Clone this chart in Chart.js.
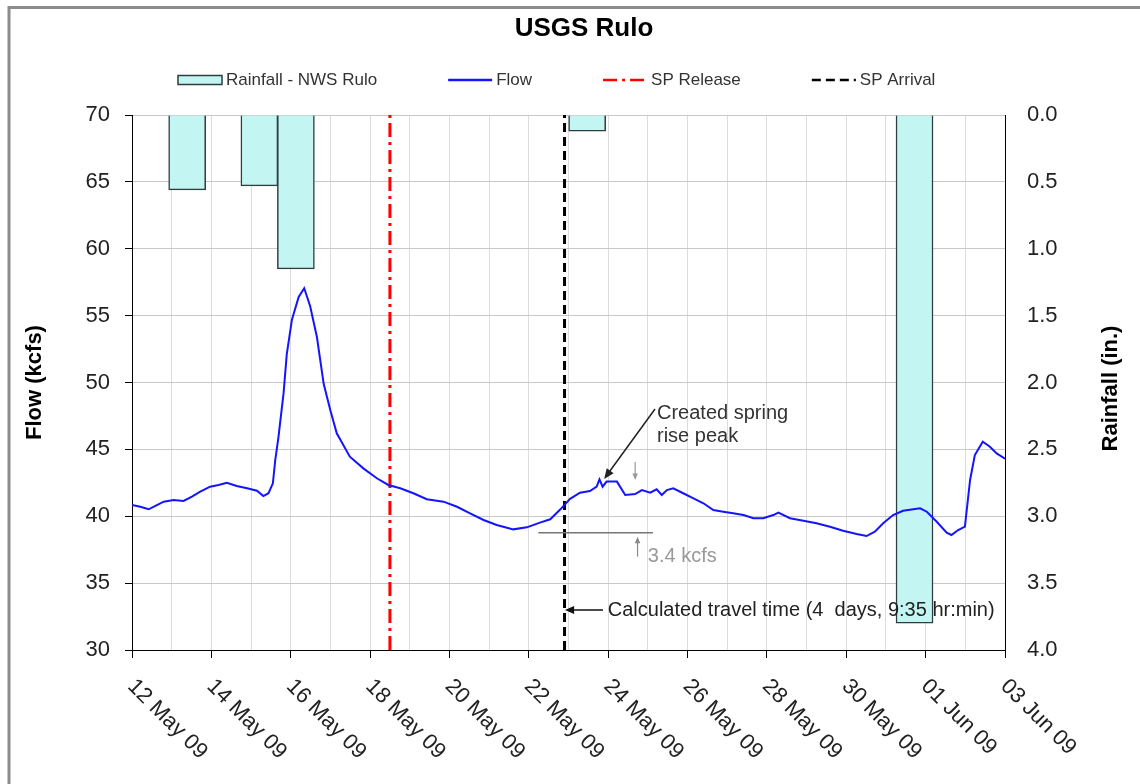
<!DOCTYPE html>
<html>
<head>
<meta charset="utf-8">
<title>USGS Rulo</title>
<script src="https://cdn.jsdelivr.net/npm/chart.js@4.4.1/dist/chart.umd.min.js"></script>
<style>
  body { margin: 0; background: #fff; }
  canvas { display: block; }
</style>
</head>
<body>
<canvas id="chart" width="1140" height="784"></canvas>
<script>
const FONT = '"Liberation Sans", Arial, sans-serif'

// x values are days since 12 May 2009 00:00
const tickLabels = ['12 May 09', '14 May 09', '16 May 09', '18 May 09', '20 May 09', '22 May 09',
  '24 May 09', '26 May 09', '28 May 09', '30 May 09', '01 Jun 09', '03 Jun 09']

// Flow at USGS Rulo (kcfs)
const flowDays = [0.00, 0.21, 0.42, 0.59, 0.80, 1.05, 1.30, 1.51, 1.72, 1.97, 2.18, 2.39, 2.64, 2.90,
  3.15, 3.31, 3.44, 3.55, 3.61, 3.69, 3.82, 3.90, 4.03, 4.20, 4.34, 4.49, 4.66, 4.83, 5.00, 5.16,
  5.49, 5.83, 6.17, 6.46, 6.76, 7.09, 7.43, 7.85, 8.19, 8.52, 8.86, 9.19, 9.61, 9.95, 10.28, 10.54,
  10.79, 11.04, 11.29, 11.54, 11.71, 11.78, 11.86, 11.96, 12.22, 12.43, 12.68, 12.85, 13.06, 13.22,
  13.35, 13.48, 13.64, 13.89, 14.15, 14.40, 14.65, 14.90, 15.15, 15.41, 15.66, 15.91, 16.16, 16.29,
  16.58, 16.92, 17.25, 17.59, 17.92, 18.26, 18.51, 18.72, 18.93, 19.18, 19.43, 19.69, 19.86, 20.03,
  20.28, 20.53, 20.65, 20.82, 20.99, 21.12, 21.24, 21.44, 21.62, 21.79, 22.00]
const flowValues = [40.84, 40.71, 40.52, 40.77, 41.09, 41.22, 41.14, 41.47, 41.84, 42.21, 42.34, 42.51, 42.26, 42.09,
  41.91, 41.51, 41.72, 42.46, 44.2, 45.9, 49.2, 52.1, 54.7, 56.4, 57.05, 55.7, 53.4, 49.9, 47.9, 46.2,
  44.45, 43.58, 42.84, 42.34, 42.09, 41.72, 41.27, 41.09, 40.71, 40.22, 39.72, 39.35, 39.02, 39.17, 39.52, 39.77,
  40.5, 41.3, 41.76, 41.89, 42.21, 42.76, 42.21, 42.59, 42.59, 41.59, 41.66, 41.96, 41.76, 42.01,
  41.59, 41.96, 42.09, 41.72, 41.34, 40.97, 40.47, 40.34, 40.22, 40.09, 39.85, 39.85, 40.09, 40.27,
  39.85, 39.67, 39.47, 39.22, 38.92, 38.67, 38.52, 38.85, 39.47, 40.09, 40.41, 40.52, 40.59, 40.34,
  39.59, 38.77, 38.6, 38.97, 39.22, 42.71, 44.58, 45.57, 45.2, 44.7, 44.3]

// Rainfall - NWS Rulo (in.)
const rainDays = [1.39, 3.21, 4.13, 11.47, 19.72]
const rainValues = [0.56, 0.53, 1.15, 0.12, 3.80]

// SP release and arrival (release + 4 days 9:35)
const releaseDay = 6.50
const arrivalDay = 10.90

// annotation anchors, in data units (day, kcfs)
const notes = {
  peakText: [13.23, 47.72],
  peakArrow: [[13.18, 48.02], [11.90, 42.79]],
  dropArrow: [[12.68, 44.06], [12.68, 42.71]],
  baseLine: [[10.24, 38.77], [13.13, 38.77]],
  riseArrow: [[12.74, 36.98], [12.74, 38.47]],
  riseText: [13.0, 36.98],
  travelText: [11.99, 32.99],
  travelArrow: [[11.87, 32.99], [10.91, 32.99]],
}

const toPoints = (xs, ys) => xs.map((x, i) => ({ x: x, y: ys[i] }))

const drawArrow = (ctx, x1, y1, x2, y2, color, width, head) => {
  const a = Math.atan2(y2 - y1, x2 - x1)
  ctx.save()
  ctx.strokeStyle = color
  ctx.fillStyle = color
  ctx.lineWidth = width
  ctx.beginPath()
  ctx.moveTo(x1, y1)
  ctx.lineTo(x2 - Math.cos(a) * head * 0.8, y2 - Math.sin(a) * head * 0.8)
  ctx.stroke()
  ctx.beginPath()
  ctx.moveTo(x2, y2)
  ctx.lineTo(x2 - head * Math.cos(a - 0.4), y2 - head * Math.sin(a - 0.4))
  ctx.lineTo(x2 - head * Math.cos(a + 0.4), y2 - head * Math.sin(a + 0.4))
  ctx.closePath()
  ctx.fill()
  ctx.restore()
}

// Everything Chart.js does not draw the way the figure does
const decorPlugin = {
  id: 'decor',
  beforeDraw(chart) {
    const ctx = chart.ctx
    ctx.save()
    ctx.fillStyle = '#fff'
    ctx.fillRect(0, 0, chart.width, chart.height)
    ctx.strokeStyle = '#8c8c8c'
    ctx.lineWidth = 3
    ctx.beginPath()
    ctx.moveTo(9, chart.height)
    ctx.lineTo(9, 7.5)
    ctx.lineTo(chart.width, 7.5)
    ctx.stroke()
    ctx.restore()
  },
  afterDraw(chart) {
    const ctx = chart.ctx
    const x = chart.scales.x
    const y = chart.scales.y
    const area = chart.chartArea
    const px = (p) => [x.getPixelForValue(p[0]), y.getPixelForValue(p[1])]

    ctx.save()
    // title
    ctx.fillStyle = '#000'
    ctx.font = 'bold 26px ' + FONT
    ctx.textAlign = 'center'
    ctx.textBaseline = 'middle'
    ctx.fillText('USGS Rulo', 584, 29)

    // legend
    ctx.font = '17px ' + FONT
    ctx.textAlign = 'left'
    let lx = 178
    const ly = 80
    chart.data.datasets.forEach((ds) => {
      ctx.save()
      if (ds.type === 'bar') {
        ctx.fillStyle = ds.backgroundColor
        ctx.strokeStyle = ds.borderColor
        ctx.lineWidth = 1.5
        ctx.fillRect(lx, ly - 4.5, 44, 9)
        ctx.strokeRect(lx, ly - 4.5, 44, 9)
      } else {
        ctx.strokeStyle = ds.borderColor
        ctx.lineWidth = 2.5
        ctx.setLineDash(ds.borderDash || [])
        ctx.beginPath()
        ctx.moveTo(lx, ly)
        ctx.lineTo(lx + 44, ly)
        ctx.stroke()
      }
      ctx.restore()
      ctx.fillStyle = '#333'
      ctx.fillText(ds.label, lx + 48, ly)
      lx += 48 + ctx.measureText(ds.label).width + 71
    })

    // right axis title, reading bottom to top
    ctx.save()
    ctx.translate(1111, (area.top + area.bottom) / 2 + 6)
    ctx.rotate(-Math.PI / 2)
    ctx.font = 'bold 22px ' + FONT
    ctx.textAlign = 'center'
    ctx.fillStyle = '#000'
    ctx.fillText('Rainfall (in.)', 0, 0)
    ctx.restore()

    // date labels, slanted down to the right
    ctx.font = '22px ' + FONT
    ctx.fillStyle = '#222'
    ctx.textAlign = 'left'
    tickLabels.forEach((label, i) => {
      ctx.save()
      ctx.translate(x.getPixelForValue(i * 2) - 1, area.bottom + 33)
      ctx.rotate(Math.PI / 4)
      ctx.fillText(label, 0, 0)
      ctx.restore()
    })

    // annotations
    ctx.font = '20px ' + FONT
    ctx.fillStyle = '#333'
    let p = px(notes.peakText)
    ctx.fillText('Created spring', p[0], p[1])
    ctx.fillText('rise peak', p[0], p[1] + 23)
    let a = px(notes.peakArrow[0]), b = px(notes.peakArrow[1])
    drawArrow(ctx, a[0], a[1], b[0], b[1], '#222', 1.5, 11)
    a = px(notes.dropArrow[0]); b = px(notes.dropArrow[1])
    drawArrow(ctx, a[0], a[1], b[0], b[1], '#999', 1.2, 7)
    a = px(notes.baseLine[0]); b = px(notes.baseLine[1])
    ctx.strokeStyle = '#777'
    ctx.lineWidth = 1.5
    ctx.beginPath()
    ctx.moveTo(a[0], a[1])
    ctx.lineTo(b[0], b[1])
    ctx.stroke()
    a = px(notes.riseArrow[0]); b = px(notes.riseArrow[1])
    drawArrow(ctx, a[0], a[1], b[0], b[1], '#888', 1.2, 7)
    p = px(notes.riseText)
    ctx.fillStyle = '#999'
    ctx.fillText('3.4 kcfs', p[0], p[1])
    p = px(notes.travelText)
    ctx.fillStyle = '#222'
    ctx.fillText('Calculated travel time (4  days, 9:35 hr:min)', p[0], p[1])
    a = px(notes.travelArrow[0]); b = px(notes.travelArrow[1])
    drawArrow(ctx, a[0], a[1], b[0], b[1], '#111', 1.5, 10)
    ctx.restore()
  }
}

Chart.defaults.font.family = FONT

const chart = new Chart(document.getElementById('chart'), {
  type: 'line',
  data: {
    datasets: [
      {
        type: 'bar',
        label: 'Rainfall - NWS Rulo',
        data: toPoints(rainDays, rainValues),
        yAxisID: 'y1',
        backgroundColor: '#c3f5f3',
        borderColor: '#2e3d3d',
        borderWidth: 1.5,
        barThickness: 37,
        order: 4,
      },
      {
        label: 'Flow',
        data: toPoints(flowDays, flowValues),
        yAxisID: 'y',
        borderColor: '#1414ff',
        borderWidth: 2,
        pointRadius: 0,
        tension: 0,
        order: 1,
      },
      {
        label: 'SP Release',
        data: [{ x: releaseDay, y: 30 }, { x: releaseDay, y: 70 }],
        yAxisID: 'y',
        borderColor: '#ff0000',
        borderWidth: 3,
        borderDash: [14, 5, 3, 5],
        pointRadius: 0,
        order: 2,
      },
      {
        label: 'SP Arrival',
        data: [{ x: arrivalDay, y: 30 }, { x: arrivalDay, y: 70 }],
        yAxisID: 'y',
        borderColor: '#000000',
        borderWidth: 3,
        borderDash: [9, 5],
        pointRadius: 0,
        order: 3,
      },
    ]
  },
  options: {
    responsive: false,
    animation: false,
    layout: { padding: { top: 115, left: 0, right: 0, bottom: 0 } },
    plugins: {
      legend: { display: false },
      title: { display: false },
      tooltip: { enabled: false },
    },
    scales: {
      x: {
        type: 'linear',
        min: 0,
        max: 22,
        offset: false,
        afterFit: (scale) => { scale.height = 134 },
        ticks: { stepSize: 1, display: false },
        grid: {
          offset: false,
          color: '#dcdcdc',
          tickLength: 8,
          tickColor: (ctx) => (ctx.tick && ctx.tick.value % 2 === 0 ? '#000' : 'rgba(0,0,0,0)'),
        },
        border: { color: '#000', width: 1 },
      },
      y: {
        position: 'left',
        min: 30,
        max: 70,
        afterFit: (scale) => { scale.width = 132 },
        ticks: { stepSize: 5, padding: 15, color: '#222', font: { size: 22 } },
        grid: { color: '#c8c8c8', tickLength: 7, tickColor: '#000' },
        border: { color: '#000', width: 1 },
        title: {
          display: true,
          text: 'Flow (kcfs)',
          color: '#000',
          font: { size: 22, weight: 'bold' },
          padding: { top: 22, bottom: 0 },
        },
      },
      y1: {
        position: 'right',
        min: 0,
        max: 4,
        reverse: true,
        afterFit: (scale) => { scale.width = 135 },
        ticks: {
          stepSize: 0.5,
          padding: 22,
          color: '#222',
          font: { size: 22 },
          callback: (v) => v.toFixed(1),
        },
        grid: { drawOnChartArea: false, drawTicks: false },
        border: { color: '#000', width: 1 },
      },
    }
  },
  plugins: [decorPlugin]
})
</script>
</body>
</html>
